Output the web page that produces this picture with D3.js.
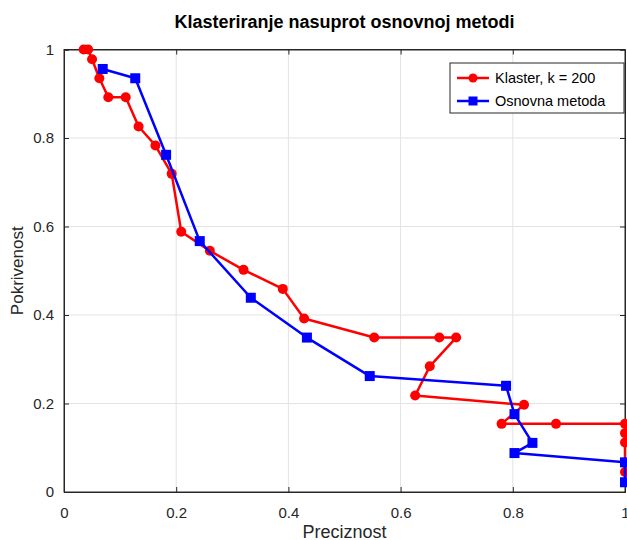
<!DOCTYPE html>
<html>
<head>
<meta charset="utf-8">
<script src="https://cdn.jsdelivr.net/npm/d3@7"></script>
<style>
	body { margin: 0; background: #fff; }
	svg { display: block; font-family: 'Liberation Sans', Arial, sans-serif; }
</style>
</head>
<body>
<div id="chart"></div>
<script>
// Klaster, k = 200 (precision, recall)
const klasterPrec = [0.035, 0.043, 0.050, 0.063, 0.079, 0.110, 0.133, 0.163, 0.192, 0.209, 0.260, 0.320, 0.390, 0.428, 0.553, 0.669, 0.699, 0.652, 0.626, 0.820, 0.780, 0.877, 1.0, 1.0, 1.0, 1.0];
const klasterRec  = [1.0, 1.0, 0.978, 0.935, 0.892, 0.892, 0.826, 0.783, 0.719, 0.588, 0.545, 0.502, 0.459, 0.392, 0.349, 0.349, 0.349, 0.284, 0.218, 0.197, 0.154, 0.154, 0.154, 0.133, 0.112, 0.045];

// Osnovna metoda (precision, recall)
const osnovnaPrec = [0.069, 0.127, 0.182, 0.242, 0.333, 0.433, 0.545, 0.788, 0.803, 0.835, 0.803, 1.0, 1.0];
const osnovnaRec  = [0.956, 0.935, 0.762, 0.567, 0.439, 0.349, 0.262, 0.240, 0.176, 0.111, 0.088, 0.067, 0.022];

const tickValues = [0, 0.2, 0.4, 0.6, 0.8, 1];

const series = [
	{ 'name': 'Klaster, k = 200', 'color': '#ff0000', 'marker': 'circle', 'x': klasterPrec, 'y': klasterRec },
	{ 'name': 'Osnovna metoda', 'color': '#0000ff', 'marker': 'square', 'x': osnovnaPrec, 'y': osnovnaRec }
];

const width = 627, height = 540;
const margin = { top: 49.5, right: 2, bottom: 48, left: 64 };

const svg = d3.select('#chart').append('svg')
	.attr('width', width)
	.attr('height', height);

const x = d3.scaleLinear().domain([0, 1]).range([margin.left, width - margin.right]);
const y = d3.scaleLinear().domain([0, 1]).range([height - margin.bottom, margin.top]);

// Grid
svg.append('g').selectAll('line.vgrid')
	.data(tickValues.slice(1, -1))
.join('line')
	.attr('x1', d => x(d)).attr('x2', d => x(d))
	.attr('y1', y(0)).attr('y2', y(1))
	.attr('stroke', '#e3e3e3').attr('stroke-width', 1);

svg.append('g').selectAll('line.hgrid')
	.data(tickValues.slice(1, -1))
.join('line')
	.attr('y1', d => y(d)).attr('y2', d => y(d))
	.attr('x1', x(0)).attr('x2', x(1))
	.attr('stroke', '#e3e3e3').attr('stroke-width', 1);

// Box
svg.append('rect')
	.attr('x', x(0)).attr('y', y(1))
	.attr('width', x(1) - x(0)).attr('height', y(0) - y(1))
	.attr('fill', 'none').attr('stroke', '#262626').attr('stroke-width', 1);

// Axes with inward ticks
svg.append('g')
	.attr('transform', `translate(0,${y(0)})`)
	.call(d3.axisBottom(x).tickValues(tickValues).tickSize(-5).tickPadding(15).tickFormat(d3.format('')));
svg.append('g')
	.attr('transform', `translate(${x(0)},0)`)
	.call(d3.axisLeft(y).tickValues(tickValues).tickSize(-5).tickPadding(10).tickFormat(d3.format('')));
svg.append('g')
	.attr('transform', `translate(0,${y(1)})`)
	.call(d3.axisTop(x).tickValues(tickValues).tickSize(-5).tickFormat(''));
svg.append('g')
	.attr('transform', `translate(${x(1)},0)`)
	.call(d3.axisRight(y).tickValues(tickValues).tickSize(-5).tickFormat(''));

svg.selectAll('.domain').attr('stroke', '#262626');
svg.selectAll('.tick line').attr('stroke', '#262626');
svg.selectAll('.tick text')
	.attr('fill', '#262626')
	.style('font-family', "'Liberation Sans', Arial, sans-serif")
	.style('font-size', '15px');

// Lines and markers
const line = d3.line().x(d => x(d[0])).y(d => y(d[1]));

series.forEach(s => {
	const pts = s.x.map((v, i) => [v, s.y[i]]);
	const g = svg.append('g');
	g.append('path')
		.datum(pts)
		.attr('d', line)
		.attr('fill', 'none')
		.attr('stroke', s.color)
		.attr('stroke-width', 2.5)
		.attr('stroke-linejoin', 'round');
	if (s.marker === 'circle') {
		g.selectAll('circle').data(pts).join('circle')
			.attr('cx', d => x(d[0])).attr('cy', d => y(d[1]))
			.attr('r', 5).attr('fill', s.color);
	}
	else {
		g.selectAll('rect').data(pts).join('rect')
			.attr('x', d => x(d[0]) - 5).attr('y', d => y(d[1]) - 5)
			.attr('width', 10).attr('height', 10).attr('fill', s.color);
	}
});

// Title and labels
svg.append('text')
	.attr('x', (x(0) + x(1)) / 2).attr('y', 28)
	.attr('text-anchor', 'middle')
	.style('font-size', '18px').style('font-weight', 'bold')
	.attr('fill', '#000')
	.text('Klasteriranje nasuprot osnovnoj metodi');

svg.append('text')
	.attr('x', (x(0) + x(1)) / 2).attr('y', 538)
	.attr('text-anchor', 'middle')
	.style('font-size', '18px')
	.attr('fill', '#262626')
	.text('Preciznost');

svg.append('text')
	.attr('transform', `translate(23,${(y(0) + y(1)) / 2}) rotate(-90)`)
	.attr('text-anchor', 'middle')
	.style('font-size', '17px')
	.attr('fill', '#262626')
	.text('Pokrivenost');

// Legend
const legend = svg.append('g').attr('transform', 'translate(450,63)');
legend.append('rect')
	.attr('width', 174).attr('height', 50)
	.attr('fill', '#fff').attr('stroke', '#262626').attr('stroke-width', 1);

series.forEach((s, i) => {
	const ly = 15 + i * 23;
	legend.append('line')
		.attr('x1', 7).attr('x2', 39).attr('y1', ly).attr('y2', ly)
		.attr('stroke', s.color).attr('stroke-width', 2.5);
	if (s.marker === 'circle') {
		legend.append('circle').attr('cx', 23).attr('cy', ly).attr('r', 4.5).attr('fill', s.color);
	}
	else {
		legend.append('rect').attr('x', 18.5).attr('y', ly - 4.5).attr('width', 9).attr('height', 9).attr('fill', s.color);
	}
	legend.append('text')
		.attr('x', 45).attr('y', ly + 5)
		.style('font-size', '14.5px')
		.attr('fill', '#000')
		.text(s.name);
});
</script>
</body>
</html>
